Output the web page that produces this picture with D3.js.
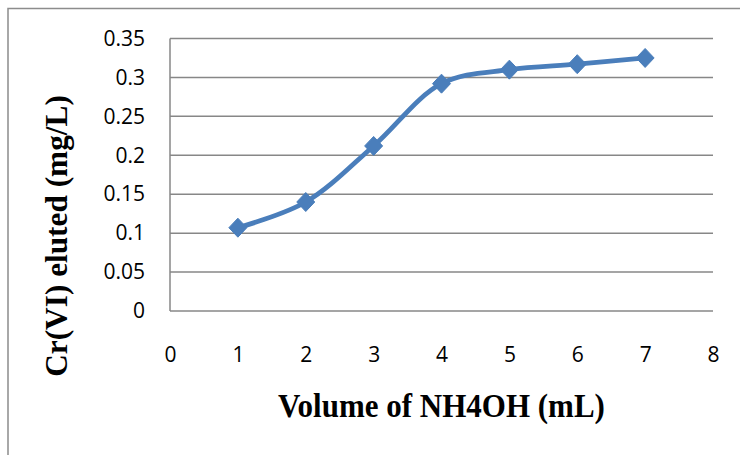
<!DOCTYPE html>
<html><head><meta charset="utf-8">
<script src="https://cdn.jsdelivr.net/npm/d3@7"></script>
<style>
html,body{margin:0;padding:0;background:#fff;}
svg{display:block;}
</style></head>
<body>
<svg id="chart" width="740" height="455"></svg>
<script>
const volumes = [1, 2, 3, 4, 5, 6, 7];
const crEluted = [0.107, 0.140, 0.212, 0.292, 0.310, 0.317, 0.325];
const xTicks = [0, 1, 2, 3, 4, 5, 6, 7, 8];
const yTicks = [0, 0.05, 0.1, 0.15, 0.2, 0.25, 0.3, 0.35];
const xTitle = "Volume of NH4OH (mL)";
const yTitle = "Cr(VI) eluted (mg/L)";

(function () {
const svg = d3.select("#chart");
const pLeft = 170, pRight = 713, pTop = 38.5, pBottom = 311;

svg.append("rect").attr("x", 8).attr("y", 8.5).attr("width", 800).attr("height", 500)
  .attr("fill", "none").attr("stroke", "#8c8c8c").attr("stroke-width", 1.5);

const x = d3.scaleLinear().domain([0, 8]).range([pLeft, pRight]);
const y = d3.scaleLinear().domain([0, 0.35]).range([pBottom, pTop]);

svg.append("g").selectAll("line").data(yTicks).join("line")
  .attr("x1", pLeft).attr("x2", pRight)
  .attr("y1", d => y(d)).attr("y2", d => y(d))
  .attr("stroke", "#878787").attr("stroke-width", 1.5);

svg.append("line").attr("x1", pLeft).attr("x2", pLeft).attr("y1", y(0.35)).attr("y2", y(0))
  .attr("stroke", "#878787").attr("stroke-width", 1.5);

const yAxis = d3.axisLeft(y).tickValues(yTicks).tickSize(0).tickPadding(25)
  .tickFormat(d => d3.format("~g")(d));
const gy = svg.append("g").attr("transform", `translate(${pLeft},0)`).call(yAxis);
gy.select(".domain").remove();
gy.selectAll("text").attr("font-family", "'Open Sans', sans-serif").attr("font-size", 21)
  .attr("fill", "#000");

const xAxis = d3.axisBottom(x).tickValues(xTicks).tickSize(0).tickPadding(36)
  .tickFormat(d3.format("d"));
const gx = svg.append("g").attr("transform", `translate(0,${pBottom})`).call(xAxis);
gx.select(".domain").remove();
gx.selectAll("text").attr("font-family", "'Open Sans', sans-serif").attr("font-size", 21)
  .attr("fill", "#000");

const pts = volumes.map((v, i) => [v, crEluted[i]]);
const line = d3.line().x(d => x(d[0])).y(d => y(d[1])).curve(d3.curveCatmullRom.alpha(0.5));
svg.append("path").datum(pts).attr("d", line)
  .attr("fill", "none").attr("stroke", "#4a7ebb").attr("stroke-width", 4.8)
  .attr("stroke-linejoin", "round");

svg.append("g").selectAll("path").data(pts).join("path")
  .attr("transform", d => `translate(${x(d[0])},${y(d[1])})`)
  .attr("d", "M0,-9.5L9,0L0,9.5L-9,0Z")
  .attr("fill", "#4a7ebb").attr("stroke", "#4a7ebb").attr("stroke-width", 1);

svg.append("text").attr("transform", "translate(441.5,416.5) scale(1,1.12)").attr("text-anchor", "middle")
  .attr("font-family", "'Liberation Serif', 'Times New Roman', serif").attr("font-weight", "bold")
  .attr("font-size", 31).attr("fill", "#000").text(xTitle);

svg.append("text").attr("transform", "translate(67,236) rotate(-90)").attr("text-anchor", "middle")
  .attr("font-family", "'Liberation Serif', 'Times New Roman', serif").attr("font-weight", "bold")
  .attr("font-size", 31.3).attr("fill", "#000").text(yTitle);
})();
</script>
</body></html>
